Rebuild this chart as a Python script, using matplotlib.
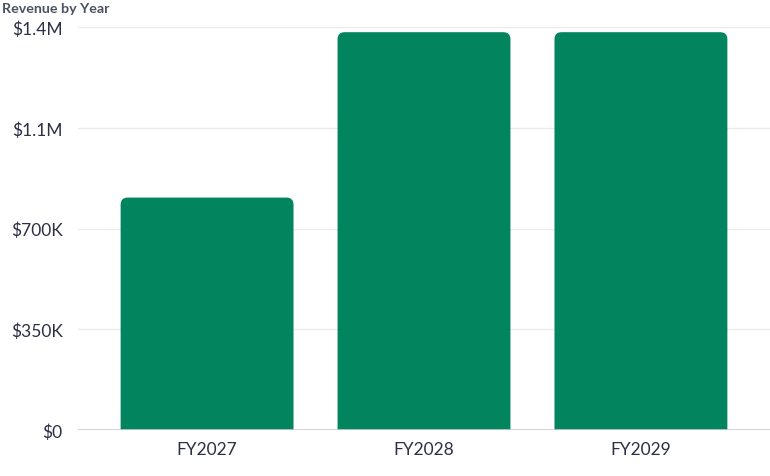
import matplotlib
matplotlib.use("Agg")
import matplotlib.pyplot as plt
from matplotlib.patches import FancyBboxPatch

years = ["FY2027", "FY2028", "FY2029"]
revenue = [808000, 1383000, 1383000]
y_ticks = [0, 350000, 700000, 1050000, 1400000]
y_tick_labels = ["$0", "$350K", "$700K", "$1.1M", "$1.4M"]

BAR_COLOR = "#02845f"
TEXT_COLOR = "#2b3044"

plt.rcParams["font.family"] = ["Lato", "DejaVu Sans"]

W, H, DPI = 770, 477, 100
fig = plt.figure(figsize=(W / DPI, H / DPI), dpi=DPI)
ax = fig.add_axes([78 / W, (H - 431) / H, 1 - 78 / W, (431 - 28.3) / H])

ax.set_xlim(-0.595, 2.595)
ax.set_ylim(0, 1400000)

# pixel scale so the top corners come out round, not squashed
px_x = ax.transData.transform((1, 0))[0] - ax.transData.transform((0, 0))[0]
px_y = ax.transData.transform((0, 1))[1] - ax.transData.transform((0, 0))[1]
radius_px = 7
r_x = radius_px / px_x
aspect = px_x / px_y
width = 0.797

for i, val in enumerate(revenue):
    # start below the axis so only the top corners show as rounded
    bottom = -radius_px / px_y * 2
    box = FancyBboxPatch((i - width / 2, bottom), width, val - bottom,
                         boxstyle=f"round,pad=0,rounding_size={r_x}",
                         mutation_aspect=aspect, facecolor=BAR_COLOR,
                         edgecolor="none", zorder=3, clip_on=True)
    ax.add_patch(box)

ax.set_yticks(y_ticks)
ax.set_yticklabels(y_tick_labels)
ax.set_xticks(range(len(years)))
ax.set_xticklabels(years)
ax.tick_params(axis="both", length=0, labelsize=12.5, colors=TEXT_COLOR)
ax.tick_params(axis="y", pad=11)
ax.tick_params(axis="x", pad=8)

for y in y_ticks[1:]:
    ax.axhline(y, color="#ebebeb", lw=1, zorder=1)
ax.axhline(0, color="#c9c9cf", lw=1.2, zorder=4)

for s in ax.spines.values():
    s.set_visible(False)

fig.text(2 / W, 1 - 9 / H, "Revenue by Year", fontsize=10.3, fontweight="bold",
         color="#4d5160", ha="left", va="center")

fig.savefig("out.png", dpi=DPI)
